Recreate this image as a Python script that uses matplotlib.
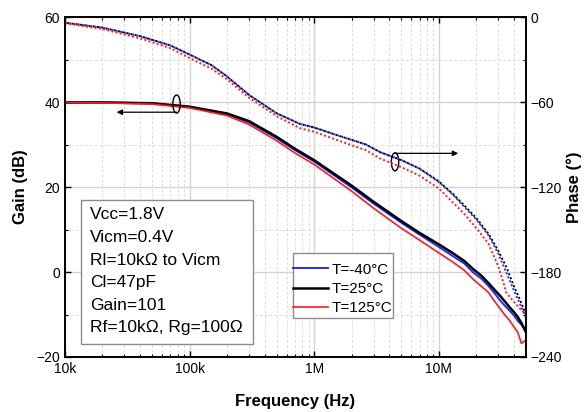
import matplotlib
matplotlib.use('Agg')
import matplotlib.pyplot as plt
from matplotlib.patches import Ellipse, Rectangle
from matplotlib.ticker import FixedLocator, MultipleLocator, LogLocator, NullFormatter

plt.rcParams['font.family'] = ['Liberation Sans', 'DejaVu Sans']

# gain curves (dB)
freq_gain = [1e4, 2e4, 5e4, 1e5, 2e5, 3e5, 5e5, 7e5, 1e6, 2e6, 3e6, 5e6, 7e6,
             1e7, 1.3e7, 1.6e7, 1.9e7, 2.2e7, 2.5e7, 2.8e7, 3.1e7, 3.4e7,
             3.7e7, 4e7, 4.3e7, 4.6e7, 5e7]
gain_m40 = [39.95, 39.9, 39.7, 38.8, 37.1, 35.2, 31.5, 28.7, 26.0, 19.9, 16.1,
            11.6, 8.8, 5.9, 3.7, 2.0, -0.2, -1.6, -3.3, -5.0, -6.7, -8.0,
            -9.1, -10.2, -11.5, -12.4, -13.7]
gain_25 = [39.9, 39.9, 39.7, 38.9, 37.3, 35.5, 31.8, 29.0, 26.3, 20.3, 16.5,
           12.0, 9.2, 6.5, 4.4, 2.6, 0.6, -0.9, -2.6, -4.2, -5.6, -7.0,
           -8.3, -9.4, -10.6, -12.0, -14.2]
gain_125 = [39.9, 39.8, 39.5, 38.6, 36.8, 34.7, 30.9, 28.0, 25.3, 19.0, 15.0,
            10.3, 7.5, 4.5, 2.3, 0.4, -1.8, -3.4, -4.8, -6.9, -8.6, -10.2,
            -11.4, -12.9, -14.2, -16.8, -16.0]

# phase curves (deg)
freq_phase = [1e4, 2e4, 4e4, 7e4, 1e5, 1.5e5, 2e5, 3e5, 5e5, 7.7e5, 1e6,
              1.6e6, 2.6e6, 3.4e6, 5e6, 7e6, 1e7, 1.3e7, 1.6e7, 2e7, 2.5e7,
              3e7, 3.5e7, 4e7, 4.5e7, 5e7]
phase_m40 = [-4, -7.5, -13.5, -20, -26.5, -34, -42, -55, -68, -75.5, -78,
             -84, -90, -95.5, -101, -107, -116.5, -125.5, -134, -143, -154,
             -167, -181, -193, -203, -212]
phase_25 = [-4, -7.5, -13.5, -20, -26.5, -34, -42, -55, -68, -75.5, -78,
            -84, -90, -95.5, -101, -107, -116, -125, -133, -142, -153,
            -165, -177, -190, -200, -210]
phase_125 = [-4.5, -8.5, -15, -22, -29, -36.5, -44, -57, -70, -78.5, -81,
             -87.5, -94, -100, -106, -112, -121, -131, -139, -149, -160,
             -176, -195, -201, -206, -210]

labels = ['T=-40°C', 'T=25°C', 'T=125°C']
colors = ['#1f2cff', 'black', '#ff1a1a']

conditions = ['Vcc=1.8V', 'Vicm=0.4V', 'Rl=10kΩ to Vicm', 'Cl=47pF',
              'Gain=101', 'Rf=10kΩ, Rg=100Ω']

fig = plt.figure(figsize=(5.87, 4.12), dpi=100)
ax = fig.add_axes([0.1107, 0.1335, 0.7853, 0.8252])
ax2 = ax.twinx()

widths = [1.4, 1.8, 1.2]
for g, c, lab, w in zip([gain_m40, gain_25, gain_125], colors, labels, widths):
    ax.semilogx(freq_gain, g, color=c, lw=w, label=lab, zorder=3)

for p, c, off in zip([phase_m40, phase_25, phase_125], colors, [0, 1, 0]):
    ax2.semilogx(freq_phase, p, color=c, lw=1.4, linestyle=(off, (1, 1.2)))

ax.set_xlim(1e4, 5e7)
ax.set_ylim(-20, 60)
ax2.set_ylim(-240, 0)

ax.xaxis.set_major_locator(FixedLocator([1e4, 1e5, 1e6, 1e7]))
ax.set_xticklabels(['10k', '100k', '1M', '10M'])
ax.xaxis.set_minor_locator(LogLocator(base=10, subs=range(2, 10), numticks=20))
ax.xaxis.set_minor_formatter(NullFormatter())
ax.yaxis.set_major_locator(MultipleLocator(20))
ax.yaxis.set_minor_locator(MultipleLocator(10))
ax2.yaxis.set_major_locator(MultipleLocator(60))
ax2.yaxis.set_minor_locator(MultipleLocator(30))

ax.grid(True, which='major', color='#d4d4d4', lw=1.0, zorder=0)
ax.grid(True, which='minor', color='#dcdcdc', lw=0.7, linestyle=(0, (3, 2)), zorder=0)
ax.set_axisbelow(True)

ax.tick_params(which='both', direction='in', top=True, right=False, labelsize=10)
ax.tick_params(which='major', length=4, width=1)
ax.tick_params(which='minor', length=2.5, width=0.8)
ax2.tick_params(which='both', direction='in', labelsize=10)
ax2.tick_params(which='major', length=4, width=1)
ax2.tick_params(which='minor', length=2.5, width=0.8)
for a in (ax, ax2):
    for s in a.spines.values():
        s.set_linewidth(1.2)

ax.set_xlabel('Frequency (Hz)', fontsize=12, fontweight='bold', labelpad=13)
ax.set_ylabel('Gain (dB)', fontsize=12, fontweight='bold', labelpad=6)
ax2.set_ylabel('Phase (°)', fontsize=12, fontweight='bold', labelpad=3)

# annotations: ellipses with arrows pointing to the axis each family uses
ax.add_patch(Ellipse((0.242, 0.744), 0.016, 0.053, transform=ax.transAxes,
                     fill=False, ec='black', lw=1, zorder=5))
ax.annotate('', xy=(0.112, 0.72), xytext=(0.242, 0.72), xycoords='axes fraction',
            arrowprops=dict(arrowstyle='-|>', color='black', lw=0.9,
                            mutation_scale=8, shrinkA=0, shrinkB=0), zorder=5)
ax.add_patch(Ellipse((0.716, 0.574), 0.016, 0.053, transform=ax.transAxes,
                     fill=False, ec='black', lw=1, zorder=5))
ax.annotate('', xy=(0.853, 0.599), xytext=(0.716, 0.599), xycoords='axes fraction',
            arrowprops=dict(arrowstyle='-|>', color='black', lw=0.9,
                            mutation_scale=8, shrinkA=0, shrinkB=0), zorder=5)

# conditions box
ax.add_patch(Rectangle((0.0347, 0.038), 0.373, 0.4235, transform=ax.transAxes,
                       fc='white', ec='#8c8c8c', lw=1, zorder=6))
ax.text(0.054, 0.44, '\n'.join(conditions), transform=ax.transAxes,
        ha='left', va='top', fontsize=12.5, linespacing=1.63, zorder=7)

# legend: frame drawn separately so the handles sit against its left edge
ax.add_patch(Rectangle((0.4946, 0.1147), 0.2169, 0.1913, transform=ax.transAxes,
                       fc='white', ec='#8c8c8c', lw=1, zorder=7))
leg = ax.legend(loc='upper left', bbox_to_anchor=(0.4946, 0.277), borderaxespad=0,
                fontsize=11, frameon=False, handlelength=2.3, handletextpad=0.25,
                borderpad=0, labelspacing=0.33)
leg.set_zorder(8)

fig.savefig('out.png', dpi=100)
